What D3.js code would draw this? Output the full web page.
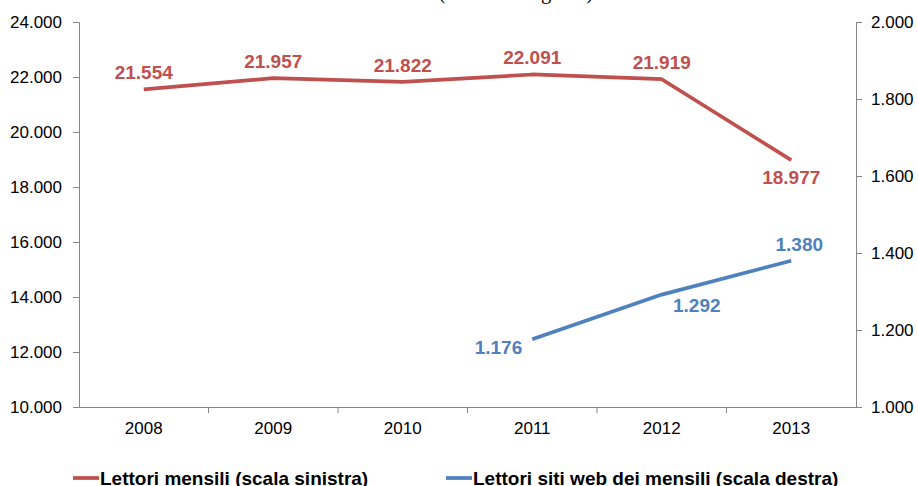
<!DOCTYPE html>
<html>
<head>
<meta charset="utf-8">
<script src="https://cdn.jsdelivr.net/npm/d3@7"></script>
<style>
  body { margin: 0; background: #fff; overflow: hidden; }
  svg { display: block; font-family: Arial, "Liberation Sans", sans-serif; }
  .axis path, .axis line { stroke: #868686; }
  .axis text { fill: #000; font-size: 17px; }
</style>
</head>
<body>
<svg id="chart"></svg>
<script>
const years = ['2008', '2009', '2010', '2011', '2012', '2013'];
const mensili = [21554, 21957, 21822, 22091, 21919, 18977];
const sitiWeb = [null, null, null, 1176, 1292, 1380];
const mensiliPos = ['above', 'above', 'above', 'above', 'above', 'below'];
const sitiPos = [null, null, null, 'left', 'belowRight', 'aboveRight'];
const leftTicks = [10000, 12000, 14000, 16000, 18000, 20000, 22000, 24000];
const rightTicks = [1000, 1200, 1400, 1600, 1800, 2000];

const width = 918, height = 486;
const margin = { top: 22, left: 79, right: 62, bottom: 79 };
const innerWidth = width - margin.left - margin.right;
const innerHeight = height - margin.top - margin.bottom;
const red = '#C0504D', blue = '#4F81BD';

const fmt = d => d3.format(',.0f')(d).replace(/,/g, '.');
const fmtNum = d => (d / 1000).toFixed(3);

const svg = d3.select('#chart').attr('width', width).attr('height', height);

// title, mostly cut off at the top edge
svg.append('text')
    .attr('x', 516).attr('y', -1)
    .attr('text-anchor', 'middle')
    .style('font-family', '"Liberation Serif", "Times New Roman", serif')
    .style('font-size', '20.5px')
    .text('(valori in migliaia)');

const g = svg.append('g').attr('transform', `translate(${margin.left},${margin.top})`);

const x = d3.scaleBand().domain(years).range([0, innerWidth]);
const yL = d3.scaleLinear().domain([10000, 24000]).range([innerHeight, 0]);
const yR = d3.scaleLinear().domain([1000, 2000]).range([innerHeight, 0]);

g.append('g').attr('class', 'axis')
    .call(d3.axisLeft(yL).tickValues(leftTicks).tickFormat(fmt).tickSize(6).tickPadding(11));

g.append('g').attr('class', 'axis')
    .attr('transform', `translate(${innerWidth},0)`)
    .call(d3.axisRight(yR).tickValues(rightTicks).tickFormat(fmt).tickSize(6).tickPadding(9));

const xAxis = g.append('g').attr('class', 'axis')
    .attr('transform', `translate(0,${innerHeight})`)
    .call(d3.axisBottom(x).tickSize(0).tickPadding(15));
xAxis.selectAll('.tick line').remove();
xAxis.selectAll('.bound')
    .data(years.slice(1))
    .join('line')
    .attr('class', 'bound')
    .attr('x1', d => x(d)).attr('x2', d => x(d))
    .attr('y1', 0).attr('y2', 6)
    .attr('stroke', '#868686');

const cx = i => x(years[i]) + x.bandwidth() / 2;

g.append('path')
    .datum(mensili)
    .attr('fill', 'none').attr('stroke', red).attr('stroke-width', 3.75)
    .attr('stroke-linejoin', 'round')
    .attr('d', d3.line().x((d, i) => cx(i)).y(d => yL(d)));

const sitiPts = sitiWeb.map((v, i) => ({ v, i })).filter(d => d.v !== null);
g.append('path')
    .datum(sitiPts)
    .attr('fill', 'none').attr('stroke', blue).attr('stroke-width', 3.75)
    .attr('stroke-linejoin', 'round')
    .attr('d', d3.line().x(d => cx(d.i)).y(d => yR(d.v)));

// label placement relative to the point
function place(pos) {
    if (pos === 'above') return { dx: 0, dy: -10, anchor: 'middle' };
    if (pos === 'below') return { dx: 0, dy: 24, anchor: 'middle' };
    if (pos === 'aboveRight') return { dx: 8, dy: -10, anchor: 'middle' };
    if (pos === 'belowRight') return { dx: 35, dy: 17, anchor: 'middle' };
    return { dx: -10, dy: 15, anchor: 'end' };
}

g.selectAll('.lab-l')
    .data(mensili)
    .join('text')
    .attr('class', 'lab-l')
    .attr('x', (d, i) => cx(i) + place(mensiliPos[i]).dx)
    .attr('y', (d, i) => yL(d) + place(mensiliPos[i]).dy)
    .attr('text-anchor', (d, i) => place(mensiliPos[i]).anchor)
    .attr('fill', red)
    .style('font-size', '19px').style('font-weight', 'bold')
    .text(fmtNum);

g.selectAll('.lab-r')
    .data(sitiPts)
    .join('text')
    .attr('class', 'lab-r')
    .attr('x', d => cx(d.i) + place(sitiPos[d.i]).dx)
    .attr('y', d => yR(d.v) + place(sitiPos[d.i]).dy)
    .attr('text-anchor', d => place(sitiPos[d.i]).anchor)
    .attr('fill', blue)
    .style('font-size', '19px').style('font-weight', 'bold')
    .text(d => fmtNum(d.v));

// legend
const legend = [
    { name: 'Lettori mensili (scala sinistra)', color: red, x: 73 },
    { name: 'Lettori siti web dei mensili (scala destra)', color: blue, x: 446 }
];
const lg = svg.selectAll('.legend')
    .data(legend)
    .join('g')
    .attr('class', 'legend')
    .attr('transform', d => `translate(${d.x},478)`);
lg.append('line')
    .attr('x1', 0).attr('x2', 26)
    .attr('stroke', d => d.color).attr('stroke-width', 3.75);
lg.append('text')
    .attr('x', 27).attr('dy', '0.35em')
    .style('font-size', '19px').style('font-weight', 'bold')
    .text(d => d.name);
</script>
</body>
</html>
